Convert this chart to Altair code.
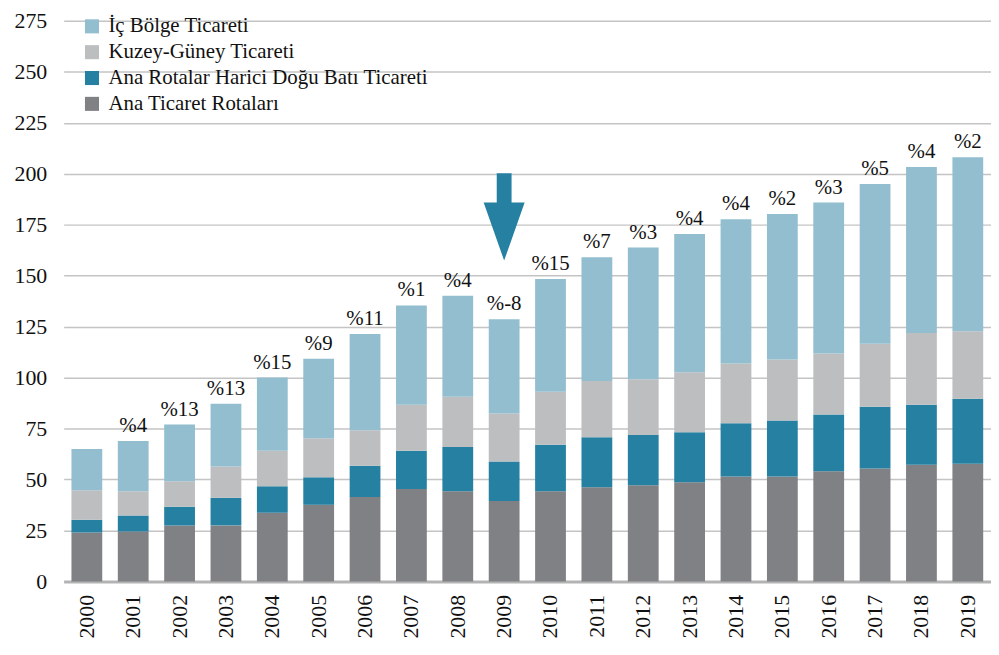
import altair as alt
import pandas as pd

years = ["2000", "2001", "2002", "2003", "2004", "2005", "2006", "2007", "2008", "2009",
         "2010", "2011", "2012", "2013", "2014", "2015", "2016", "2017", "2018", "2019"]

ana_ticaret = [24.0, 24.5, 27.5, 27.5, 33.7, 37.6, 41.4, 45.3, 44.3, 39.5,
               44.3, 46.2, 47.2, 48.7, 51.5, 51.5, 54.0, 55.4, 57.3, 57.8]
harici_dogu_bati = [6.3, 7.8, 9.1, 13.5, 13.0, 13.5, 15.4, 18.8, 21.7, 19.3,
                    22.7, 24.6, 24.6, 24.5, 26.1, 27.5, 27.9, 30.3, 29.4, 31.8]
kuzey_guney = [14.5, 12.0, 12.5, 15.4, 17.4, 19.2, 17.4, 22.6, 24.6, 23.6,
               26.0, 27.5, 27.4, 29.4, 29.3, 29.9, 29.9, 30.9, 35.2, 33.2]
ic_bolge = [20.2, 24.6, 27.9, 30.8, 35.9, 39.0, 47.2, 48.7, 49.6, 46.2,
            55.4, 60.7, 64.6, 67.9, 70.8, 71.3, 74.1, 78.4, 81.4, 85.3]

growth_labels = ["", "%4", "%13", "%13", "%15", "%9", "%11", "%1", "%4", "%-8",
                 "%15", "%7", "%3", "%4", "%4", "%2", "%3", "%5", "%4", "%2"]

series_names = ["İç Bölge Ticareti", "Kuzey-Güney Ticareti",
                "Ana Rotalar Harici Doğu Batı Ticareti", "Ana Ticaret Rotaları"]
series_colors = ["#92BECF", "#BDBEC0", "#2580A2", "#808185"]

arrow_year = ["2009"]
arrow_mid = [178.8]

# stack order: bottom first
stack_series = [
    ("Ana Ticaret Rotaları", ana_ticaret),
    ("Ana Rotalar Harici Doğu Batı Ticareti", harici_dogu_bati),
    ("Kuzey-Güney Ticareti", kuzey_guney),
    ("İç Bölge Ticareti", ic_bolge),
]
rows = []
for idx, (name, vals) in enumerate(stack_series):
    for y, v in zip(years, vals):
        rows.append({"year": y, "series": name, "value": v, "idx": idx})
df = pd.DataFrame(rows)

totals = [a + b + c + d for a, b, c, d in zip(ana_ticaret, harici_dogu_bati, kuzey_guney, ic_bolge)]
df_lab = pd.DataFrame({"year": years, "total": totals, "label": growth_labels})
df_arrow = pd.DataFrame({"year": arrow_year, "mid": arrow_mid})

FONT = "Liberation Serif"

x_enc = alt.X("year:N", title=None, sort=years,
              scale=alt.Scale(paddingInner=0.336, paddingOuter=0.168),
              axis=alt.Axis(labelAngle=270, labelAlign="right", labelBaseline="middle",
                            labelFontSize=22, labelFont=FONT, labelColor="#111",
                            labelPadding=13, ticks=False, domain=True,
                            domainColor="#B3B3B3", domainWidth=3, grid=False))

bars = alt.Chart(df).mark_bar().encode(
    x=x_enc,
    y=alt.Y("value:Q", stack="zero", title=None,
            scale=alt.Scale(domain=[0, 275], nice=False),
            axis=alt.Axis(values=list(range(0, 276, 25)), labelFontSize=22, labelFont=FONT,
                          labelColor="#111", labelPadding=17, ticks=False, domain=False,
                          grid=True, gridColor="#C4C4C4", gridWidth=1.5)),
    color=alt.Color("series:N", title=None,
                    scale=alt.Scale(domain=series_names, range=series_colors),
                    legend=alt.Legend(orient="none", legendX=18, legendY=-5,
                                      symbolType="square", symbolSize=200,
                                      symbolStrokeWidth=0, labelFontSize=21,
                                      labelFont=FONT, labelColor="#111", labelLimit=0,
                                      rowPadding=4, labelOffset=6)),
    order=alt.Order("idx:Q", sort="ascending"),
)

labels = alt.Chart(df_lab).mark_text(font=FONT, fontSize=21, color="#111",
                                     baseline="alphabetic", dy=-9).encode(
    x=alt.X("year:N", sort=years),
    y=alt.Y("total:Q"),
    text="label:N",
)

arrow_path = ("M -0.17 -1 L 0.17 -1 L 0.17 -0.33 L 0.47 -0.33 L 0 1 "
              "L -0.47 -0.33 L -0.17 -0.33 Z")
arrow = alt.Chart(df_arrow).mark_point(shape=arrow_path, filled=True, size=7700,
                                       color="#2580A2", opacity=1, strokeWidth=0).encode(
    x=alt.X("year:N", sort=years),
    y=alt.Y("mid:Q"),
)

chart = alt.layer(bars, labels, arrow).properties(
    width=933, height=564,
    padding={"left": 56, "top": 11, "right": 0, "bottom": 64},
    autosize=alt.AutoSizeParams(type="none"),
).configure_view(stroke=None)

chart.save("out.html", embed_options={"renderer": "svg", "actions": False})
